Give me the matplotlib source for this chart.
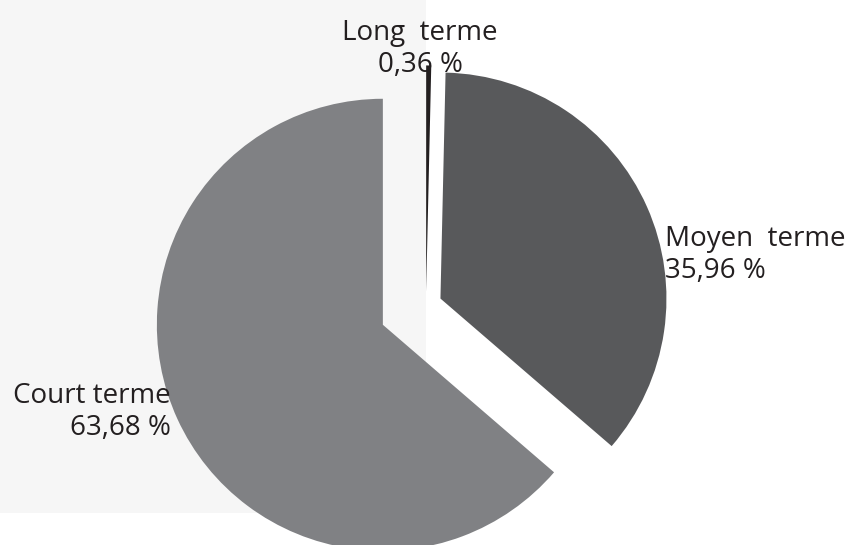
import matplotlib
matplotlib.use("Agg")
import matplotlib.pyplot as plt
from matplotlib.patches import Rectangle

labels = ['Court terme', 'Moyen  terme', 'Long  terme']
values = [63.68, 35.96, 0.36]
colors = ['#808184', '#58595b', '#231f20']
explode = [0.21, 0.07, 0.06]

plt.rcParams['font.family'] = ['Open Sans', 'DejaVu Sans']
text_color = '#231f20'

fig = plt.figure(figsize=(8.5, 5.45), dpi=100)
fig.patch.set_facecolor('white')

ax = fig.add_axes([0, 0, 1, 1])
ax.set_facecolor('none')

ax.pie(values, colors=colors, explode=explode, startangle=90,
       counterclock=True, radius=1,
       wedgeprops={'linewidth': 0, 'edgecolor': 'none'})

# pie() resets the limits, so set them afterwards
r_px = 226
cx, cy = 426, 305
ax.set_xlim(-cx / r_px, (850 - cx) / r_px)
ax.set_ylim(-(545 - cy) / r_px, cy / r_px)
ax.set_aspect('equal')
ax.axis('off')

# light grey side panel behind the chart
ax.add_patch(Rectangle((0, 32 / 545), 426 / 850, 513 / 545,
                       transform=ax.transAxes, facecolor='#f6f6f6',
                       edgecolor='none', zorder=0))

texts = [f"{lab}\n{val:.2f} %".replace('.', ',') for lab, val in zip(labels, values)]

fs = 20
ls = 1.18
fig.text(171 / 850, 1 - 382 / 545, texts[0], ha='right', va='top',
         multialignment='right', fontsize=fs, color=text_color, linespacing=ls)
fig.text(665 / 850, 1 - 225 / 545, texts[1], ha='left', va='top',
         multialignment='left', fontsize=fs, color=text_color, linespacing=ls)
fig.text(420 / 850, 1 - 19 / 545, texts[2], ha='center', va='top',
         multialignment='center', fontsize=fs, color=text_color, linespacing=ls)

fig.savefig('out.png', dpi=100)
